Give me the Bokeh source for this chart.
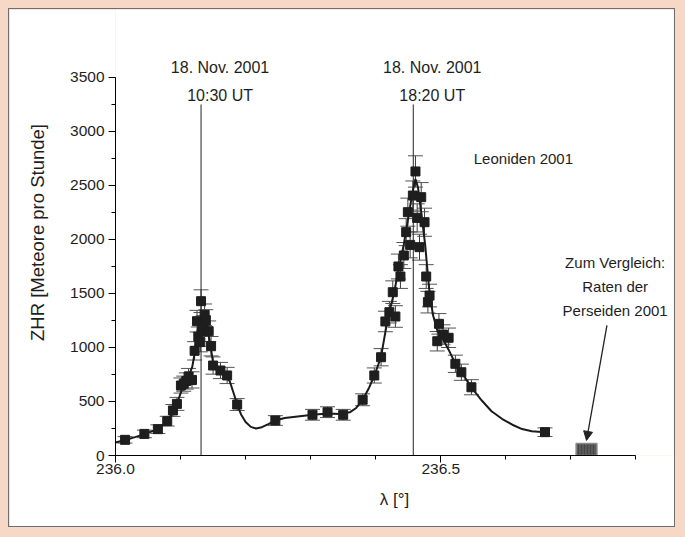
from bokeh.plotting import figure
from bokeh.models import (Whisker, TeeHead, ColumnDataSource, Label, Arrow,
                          NormalHead, FixedTicker, SingleIntervalTicker, Range1d)
from bokeh.embed import file_html
from bokeh.resources import INLINE

# ---- data ----
lam = [236.0147, 236.0444, 236.0651, 236.0795, 236.0883, 236.0944, 236.1006, 236.1049,
       236.1088, 236.1123, 236.1176, 236.1216, 236.1253, 236.1273, 236.1304, 236.1315,
       236.1330, 236.1350, 236.1370, 236.1389, 236.1432, 236.1469, 236.1500, 236.1613,
       236.1716, 236.1870, 236.2457, 236.3028, 236.3259, 236.3500, 236.3799, 236.3978,
       236.4082, 236.4148, 236.4210, 236.4262, 236.4302, 236.4349, 236.4380, 236.4432,
       236.4468, 236.4494, 236.4529, 236.4571, 236.4611, 236.4637, 236.4673, 236.4699,
       236.4750, 236.4776, 236.4802, 236.4827, 236.4946, 236.4972, 236.5034, 236.5120,
       236.5224, 236.5316, 236.5471, 236.6602]
zhr = [145, 200, 244, 318, 417, 478, 648, 665,
       690, 731, 700, 969, 1244, 1100, 1050, 1429,
       1150, 1200, 1303, 1250, 1151, 1012, 833, 787,
       741, 472, 324, 377, 401, 377, 516, 741,
       910, 1241, 1327, 1512, 1287, 1750, 1657, 1852,
       2068, 2253, 1950, 2407, 2630, 2200, 1929, 2392,
       2160, 1657, 1420, 1481, 1058, 1219, 1120, 1090,
       849, 771, 632, 216]
err = [30, 35, 40, 45, 55, 60, 70, 70,
       75, 75, 75, 85, 100, 90, 90, 105,
       95, 95, 100, 100, 95, 90, 80, 75,
       75, 55, 45, 50, 50, 50, 55, 70,
       80, 95, 100, 105, 100, 115, 110, 120,
       125, 130, 120, 135, 145, 130, 120, 135,
       130, 110, 100, 105, 90, 95, 90, 90,
       80, 75, 70, 40]

curve_lam = [236.000, 236.015, 236.030, 236.045, 236.065, 236.080, 236.090, 236.098,
             236.105, 236.112, 236.118, 236.122, 236.126, 236.130, 236.134, 236.138,
             236.142, 236.146, 236.150, 236.155, 236.162, 236.170, 236.176, 236.182,
             236.187, 236.193, 236.200, 236.208, 236.216, 236.225, 236.235, 236.246,
             236.260, 236.280, 236.303, 236.326, 236.345, 236.360, 236.370, 236.380,
             236.390, 236.398, 236.408, 236.415, 236.421, 236.428, 236.435, 236.443,
             236.450, 236.456, 236.461, 236.465, 236.470, 236.476, 236.482, 236.488,
             236.495, 236.503, 236.512, 236.522, 236.532, 236.547, 236.563, 236.578,
             236.594, 236.610, 236.625, 236.640, 236.660]
curve_zhr = [120, 143, 170, 198, 245, 318, 420, 540,
             660, 730, 820, 960, 1150, 1260, 1280, 1240,
             1150, 1020, 860, 800, 780, 745, 680, 570,
             472, 380, 310, 265, 250, 262, 290, 324,
             348, 362, 377, 390, 385, 400, 440, 516,
             630, 741, 910, 1150, 1330, 1500, 1720, 1950,
             2200, 2420, 2560, 2480, 2250, 1950, 1550, 1300,
             1150, 1080, 980, 855, 770, 632, 509, 410,
             340, 285, 245, 225, 216]

peak_lam = [236.1315, 236.4577]
peak_date = ["18. Nov. 2001", "18. Nov. 2001"]
peak_time = ["10:30 UT", "18:20 UT"]

perseid_lam = [236.708, 236.740]
perseid_zhr = 110

x_major_ticks = [236.0, 236.5]
x_minor_ticks = [236.0, 236.1, 236.2, 236.3, 236.4, 236.5, 236.6, 236.7, 236.8]

FONT = "Liberation Sans"
TXT = "#1e1e1e"

p = figure(width=667, height=519, tools="", title=None,
           x_range=Range1d(236.0, 236.8577), y_range=Range1d(0, 4129.6),
           output_backend="svg", toolbar_location=None,
           min_border_left=106, min_border_right=3, min_border_top=0, min_border_bottom=73,
           background_fill_color="white", border_fill_color="white",
           styles={"border": "1px solid #6e6e6e"})
p.outline_line_color = None
p.outline_line_alpha = 0
p.grid.visible = False

# axes
xa = p.xaxis[0]
xa.ticker = FixedTicker(ticks=x_major_ticks, minor_ticks=x_minor_ticks)
xa.major_label_overrides = {236.0: "236.0", 236.5: "236.5"}
xa.axis_label = "\u03bb [\u00b0]"
xa.bounds = (x_minor_ticks[0], x_minor_ticks[-1])
ya = p.yaxis[0]
ya.ticker = SingleIntervalTicker(interval=500, num_minor_ticks=2)
ya.axis_label = "ZHR [Meteore pro Stunde]"
ya.bounds = (0, 3500)
for ax in (xa, ya):
    ax.axis_line_color = "black"
    ax.major_tick_line_color = "black"
    ax.minor_tick_line_color = "black"
    ax.major_tick_in = 0
    ax.minor_tick_in = 0
    ax.major_tick_out = 7
    ax.minor_tick_out = 4
    ax.major_label_text_font = FONT
    ax.major_label_text_font_size = "15.5px"
    ax.major_label_text_color = TXT
    ax.axis_label_text_font = FONT
    ax.axis_label_text_font_style = "normal"
    ax.axis_label_text_color = TXT
xa.axis_label_text_font_size = "17px"
ya.axis_label_text_font_size = "18.5px"
xa.major_label_standoff = 1
xa.axis_label_standoff = 13
ya.major_label_standoff = 4
ya.axis_label_standoff = 19

# vertical marker lines at the two peaks
p.segment(x0=peak_lam, y0=[0, 0], x1=peak_lam, y1=[3250, 3250], line_color="#222222", line_width=1)

# error bars
src = ColumnDataSource(dict(lam=lam, zhr=zhr,
                            lo=[v - e for v, e in zip(zhr, err)],
                            hi=[v + e for v, e in zip(zhr, err)]))
wh = Whisker(source=src, base="lam", lower="lo", upper="hi", dimension="height",
             line_color="#3a3a3a", line_width=1,
             upper_head=TeeHead(size=15, line_color="#555555", line_width=1),
             lower_head=TeeHead(size=15, line_color="#555555", line_width=1))
p.add_layout(wh)

# fit curve
p.line(curve_lam, curve_zhr, line_color="#1a1a1a", line_width=2)

# data points
p.scatter("lam", "zhr", source=src, marker="square", size=9,
          fill_color="#1e1e1e", line_color="#1e1e1e")

# Perseid comparison box
p.quad(left=[perseid_lam[0]], right=[perseid_lam[1]], bottom=[0], top=[perseid_zhr],
       fill_color="#5a5a5a", line_color="#8a8a8a", line_width=1.5,
       hatch_pattern="vertical_line", hatch_color="#474747", hatch_scale=3, hatch_weight=1)

# texts
for lx, d, t in zip(peak_lam, peak_date, peak_time):
    p.add_layout(Label(x=lx, y=3500, x_offset=19, y_offset=10, text=d, text_align="center",
                       text_baseline="middle", text_font=FONT, text_font_size="16px",
                       text_color=TXT))
    p.add_layout(Label(x=lx, y=3500, x_offset=19, y_offset=-18, text=t, text_align="center",
                       text_baseline="middle", text_font=FONT, text_font_size="16px",
                       text_color=TXT))

p.add_layout(Label(x=236.627, y=2750, text="Leoniden 2001", text_align="center",
                   text_baseline="middle", text_font=FONT, text_font_size="15px", text_color=TXT))

cmp_lines = ["Zum Vergleich:", "Raten der", "Perseiden 2001"]
cmp_y = [1787, 1565, 1343]
for s, yy in zip(cmp_lines, cmp_y):
    p.add_layout(Label(x=236.7680, y=yy, text=s, text_align="center", text_baseline="middle",
                       text_font=FONT, text_font_size="15px", text_color=TXT))

p.add_layout(Arrow(end=NormalHead(size=9, fill_color="#222222", line_color="#222222"),
                   x_start=236.7554, y_start=1204,
                   x_end=sum(perseid_lam) / 2, y_end=perseid_zhr + 30,
                   line_color="#222222", line_width=1.3))

html = file_html(p, INLINE)
html = html.replace("</head>",
                    "<style>html,body{background:#f7d8c6;} body{padding:8px !important;}</style></head>", 1)
open("out.html", "w").write(html)
